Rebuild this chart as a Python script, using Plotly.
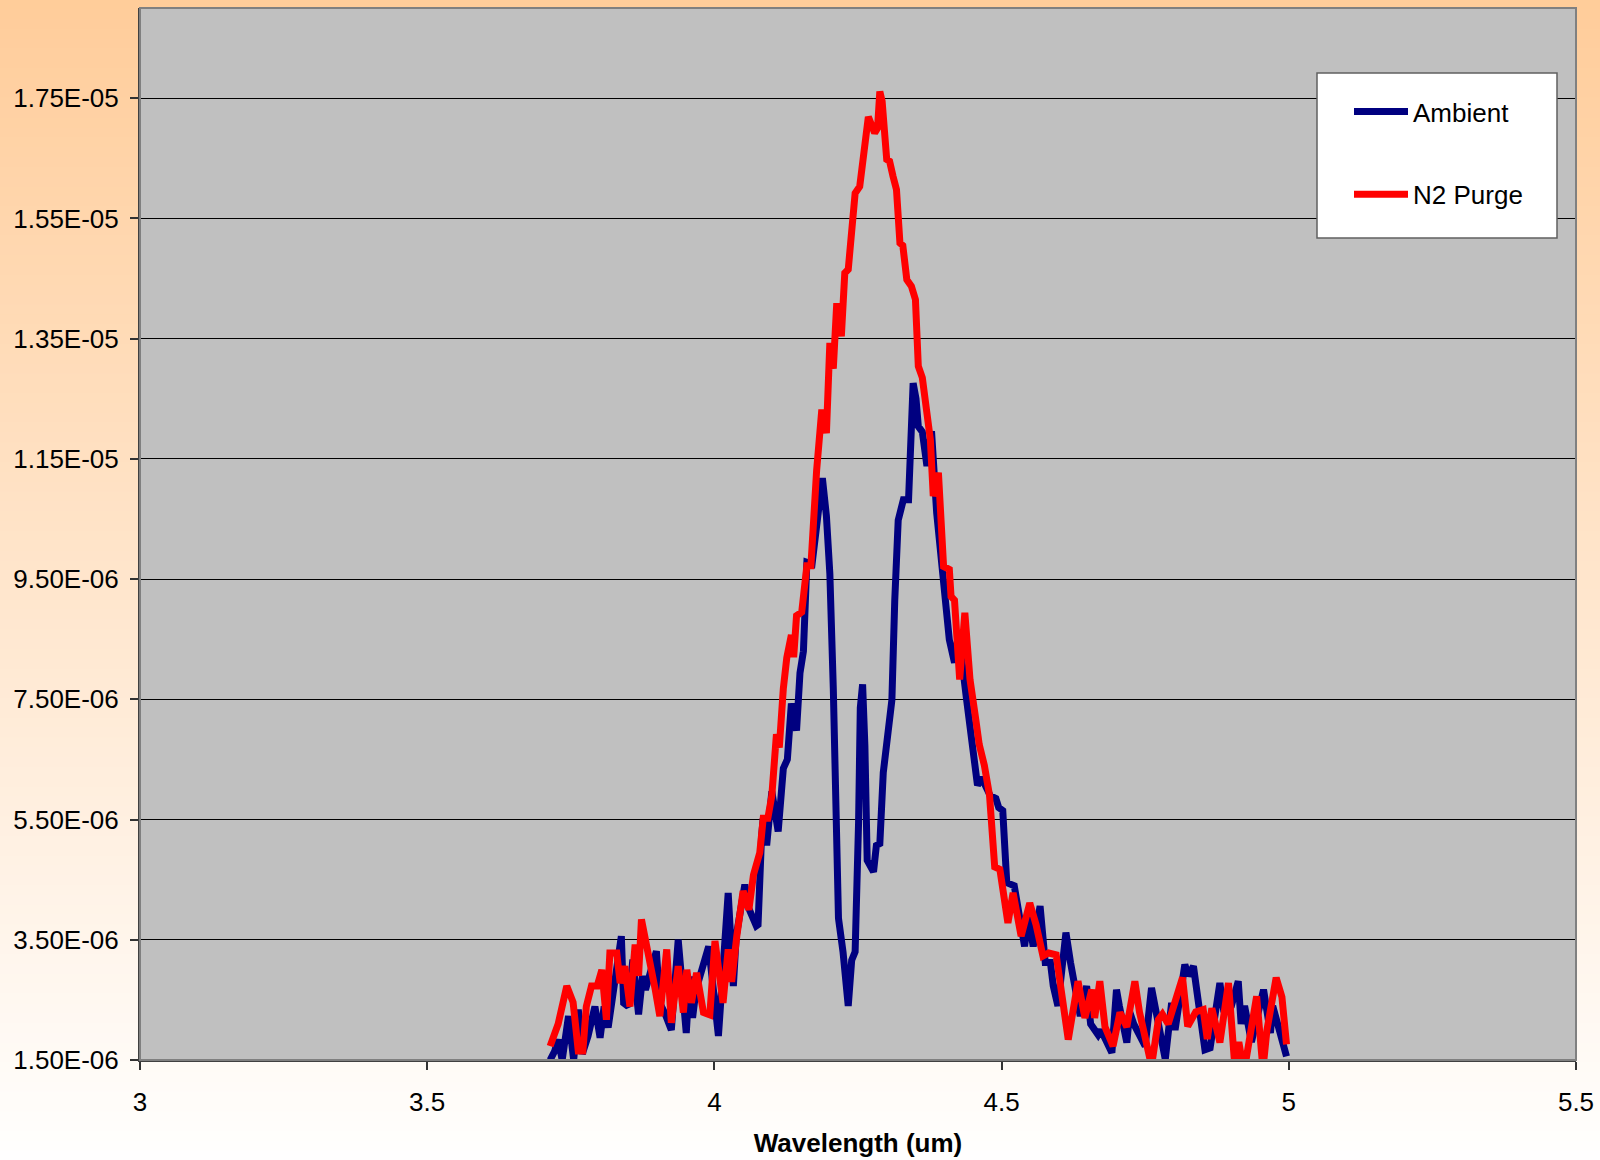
import numpy as np
import plotly.graph_objects as go

# ---------------- data (y values in units of 1e-6) ----------------
ambient_x = [3.714, 3.722, 3.728, 3.735, 3.746, 3.755, 3.763, 3.770, 3.780, 3.792,
             3.801, 3.808, 3.815, 3.825, 3.838, 3.842, 3.850, 3.858, 3.868, 3.875,
             3.880, 3.899, 3.905, 3.915, 3.925, 3.937, 3.951, 3.957, 3.962, 3.968,
             3.990, 4.007, 4.024, 4.033, 4.038, 4.053, 4.060, 4.073, 4.076, 4.082,
             4.085, 4.091, 4.100, 4.111, 4.120, 4.127, 4.134, 4.143, 4.149, 4.155,
             4.161, 4.170, 4.178, 4.188, 4.195, 4.201, 4.207, 4.212, 4.216, 4.224,
             4.233, 4.239, 4.245, 4.251, 4.254, 4.258, 4.262, 4.266, 4.277, 4.282,
             4.288, 4.294, 4.303, 4.309, 4.314, 4.320, 4.329, 4.338, 4.346, 4.351,
             4.355, 4.362, 4.370, 4.378, 4.387, 4.395, 4.404, 4.409, 4.418, 4.425,
             4.439, 4.450, 4.458, 4.465, 4.480, 4.490, 4.495, 4.502, 4.506, 4.509,
             4.522, 4.530, 4.540, 4.547, 4.555, 4.567, 4.576, 4.585, 4.590, 4.598,
             4.612, 4.620, 4.637, 4.648, 4.655, 4.668, 4.673, 4.692, 4.700, 4.705,
             4.718, 4.723, 4.730, 4.750, 4.761, 4.767, 4.785, 4.796, 4.802, 4.819,
             4.825, 4.834, 4.840, 4.854, 4.863, 4.880, 4.887, 4.900, 4.912, 4.917,
             4.923, 4.935, 4.956, 4.961, 4.968, 4.972, 4.996]
ambient_y = [1.50, 1.65, 1.84, 1.50, 2.23, 1.50, 2.34, 1.60, 1.90, 2.39,
             1.87, 2.39, 2.04, 2.78, 3.56, 2.45, 2.39, 3.17, 2.26, 2.90,
             2.67, 3.31, 2.45, 2.25, 2.00, 3.50, 1.95, 2.89, 2.20, 2.67,
             3.39, 1.90, 4.28, 2.73, 3.56, 4.42, 4.02, 3.73, 3.75, 5.20,
             5.52, 5.07, 5.97, 5.30, 6.35, 6.50, 7.43, 6.98, 7.94, 8.30,
             9.78, 9.75, 10.30, 11.18, 10.55, 9.59, 7.68, 5.45, 3.86, 3.29,
             2.40, 3.16, 3.30, 5.45, 7.36, 7.75, 6.73, 4.82, 4.63, 5.07,
             5.10, 6.28, 6.98, 7.49, 9.15, 10.48, 10.82, 10.82, 12.76, 12.50,
             12.04, 11.95, 11.38, 11.96, 10.60, 9.80, 9.16, 8.49, 8.11, 8.60,
             7.50, 6.70, 6.07, 6.20, 5.90, 5.85, 5.70, 5.65, 4.55, 4.45,
             4.40, 4.00, 3.39, 3.90, 3.39, 4.06, 3.12, 3.12, 2.73, 2.40,
             3.62, 3.12, 2.23, 2.73, 2.10, 1.92, 2.00, 1.62, 2.67, 2.40,
             1.79, 2.30, 2.10, 1.73, 2.70, 2.40, 1.51, 2.45, 2.00, 3.09,
             2.90, 3.06, 2.60, 1.67, 1.70, 2.78, 2.30, 2.40, 2.81, 2.10,
             2.40, 1.80, 2.67, 2.40, 1.95, 2.40, 1.56]

purge_x = [3.714, 3.728, 3.743, 3.754, 3.763, 3.771, 3.777, 3.786, 3.796, 3.804,
           3.812, 3.818, 3.830, 3.836, 3.844, 3.853, 3.862, 3.868, 3.873, 3.880,
           3.888, 3.897, 3.905, 3.917, 3.925, 3.937, 3.946, 3.952, 3.960, 3.969,
           3.981, 3.992, 4.001, 4.015, 4.024, 4.030, 4.039, 4.044, 4.050, 4.060,
           4.068, 4.079, 4.085, 4.093, 4.100, 4.108, 4.113, 4.120, 4.126, 4.134,
           4.138, 4.143, 4.152, 4.161, 4.168, 4.178, 4.187, 4.195, 4.198, 4.201,
           4.207, 4.213, 4.221, 4.227, 4.233, 4.239, 4.245, 4.253, 4.268, 4.279,
           4.284, 4.288, 4.292, 4.300, 4.305, 4.311, 4.317, 4.323, 4.328, 4.335,
           4.343, 4.350, 4.355, 4.362, 4.370, 4.376, 4.381, 4.390, 4.399, 4.409,
           4.412, 4.418, 4.427, 4.436, 4.445, 4.451, 4.455, 4.461, 4.470, 4.479,
           4.488, 4.497, 4.511, 4.520, 4.534, 4.549, 4.560, 4.572, 4.582, 4.595,
           4.603, 4.616, 4.633, 4.640, 4.645, 4.657, 4.662, 4.671, 4.680, 4.694,
           4.706, 4.718, 4.732, 4.740, 4.750, 4.761, 4.773, 4.780, 4.790, 4.815,
           4.824, 4.838, 4.851, 4.858, 4.866, 4.880, 4.895, 4.906, 4.913, 4.922,
           4.944, 4.955, 4.962, 4.978, 4.988, 4.996]
purge_y = [1.73, 2.10, 2.73, 2.46, 1.65, 1.65, 2.39, 2.73, 2.73, 3.00,
           2.17, 3.28, 3.28, 2.78, 3.06, 2.39, 3.42, 2.90, 3.84, 3.45,
           3.17, 2.67, 2.23, 3.34, 2.12, 3.06, 2.29, 3.00, 2.45, 2.95,
           2.29, 2.25, 3.48, 2.45, 3.34, 2.80, 3.56, 3.95, 4.31, 4.00,
           4.58, 4.95, 5.52, 5.52, 5.90, 6.92, 6.70, 7.68, 8.19, 8.57,
           8.20, 8.89, 8.95, 9.72, 9.72, 11.31, 12.32, 11.93, 12.83, 13.43,
           13.00, 14.09, 13.54, 14.59, 14.65, 15.20, 15.92, 16.03, 17.19, 16.92,
           17.00, 17.61, 17.45, 16.48, 16.45, 16.20, 15.98, 15.09, 15.05, 14.48,
           14.37, 14.15, 13.04, 12.85, 12.32, 11.82, 10.88, 11.27, 9.71, 9.66,
           9.21, 9.15, 7.83, 8.94, 7.83, 7.50, 7.17, 6.75, 6.40, 5.90,
           4.71, 4.67, 3.78, 4.28, 3.56, 4.11, 3.75, 3.23, 3.28, 3.25,
           2.73, 1.84, 2.81, 2.50, 2.20, 2.67, 2.20, 2.81, 2.05, 1.73,
           2.29, 2.05, 2.81, 2.30, 1.84, 1.40, 2.17, 2.26, 2.10, 2.87,
           2.06, 2.30, 2.34, 1.85, 2.36, 1.79, 2.78, 1.40, 1.80, 1.30,
           2.56, 1.35, 2.00, 2.87, 2.55, 1.76]

series_names = ["Ambient", "N2 Purge"]
y_tick_vals_e6 = [1.5, 3.5, 5.5, 7.5, 9.5, 11.5, 13.5, 15.5, 17.5]
x_tick_vals = [3, 3.5, 4, 4.5, 5, 5.5]

# ---------------- figure ----------------
W, H = 1600, 1160
L, R, T, B = 140, 24, 8, 100
FONT = "Arial, Liberation Sans, sans-serif"

fig = go.Figure()
fig.add_trace(go.Scatter(x=ambient_x, y=np.array(ambient_y) * 1e-6, mode="lines",
                         name=series_names[0], legendgroup="a",
                         line=dict(color="#000080", width=7)))
fig.add_trace(go.Scatter(x=purge_x, y=np.array(purge_y) * 1e-6, mode="lines",
                         name=series_names[1], legendgroup="b",
                         line=dict(color="#FF0000", width=7)))

yt = [v * 1e-6 for v in y_tick_vals_e6]
ytext = ["{:.2E}".format(v) for v in yt]

# background gradient (orange top -> white bottom) as strips in paper coords
pw, ph = W - L - R, H - T - B
x0p, x1p = -L / pw - 0.01, 1 + R / pw + 0.01
ytop, ybot = 1 + T / ph + 0.01, -B / ph - 0.01
shapes = []
N = 120
for i in range(N):
    f0 = i / N
    f1 = (i + 1) / N
    fm = (i + 0.5) / N
    g = round(204 + (255 - 204) * fm)
    b = round(153 + (255 - 153) * fm)
    shapes.append(dict(type="rect", xref="paper", yref="paper", layer="below",
                       x0=x0p, x1=x1p, y0=ytop - (ytop - ybot) * f0,
                       y1=ytop - (ytop - ybot) * f1 - 0.002,
                       fillcolor=f"rgb(255,{g},{b})", line=dict(width=0)))
# gray plot area
shapes.append(dict(type="rect", xref="paper", yref="paper", layer="below",
                   x0=0, x1=1, y0=0, y1=1, fillcolor="#C0C0C0", line=dict(width=0)))
# plot border
shapes.append(dict(type="rect", xref="paper", yref="paper", layer="above",
                   x0=0, x1=1, y0=0, y1=1, fillcolor="rgba(0,0,0,0)",
                   line=dict(color="#808080", width=2)))
# legend box
lx0, lx1 = (1317 - L) / pw, (1557 - L) / pw
ly0, ly1 = (H - B - 238) / ph, (H - B - 73) / ph
shapes.append(dict(type="rect", xref="paper", yref="paper", layer="above",
                   x0=lx0, x1=lx1, y0=ly0, y1=ly1, fillcolor="white",
                   line=dict(color="#606060", width=1.5)))

fig.update_layout(
    width=W, height=H,
    margin=dict(l=L, r=R, t=T, b=B, autoexpand=False),
    paper_bgcolor="white",
    plot_bgcolor="rgba(0,0,0,0)",
    font=dict(family=FONT, size=26, color="black"),
    shapes=shapes,
    showlegend=True,
    legend=dict(x=(1349 - L) / pw, y=(H - B - 88) / ph, xanchor="left", yanchor="top",
                bgcolor="rgba(0,0,0,0)", borderwidth=0,
                font=dict(family=FONT, size=26, color="black"),
                traceorder="grouped", tracegroupgap=46, itemwidth=54),
    xaxis=dict(range=[3, 5.5], tickvals=x_tick_vals, ticks="outside", ticklen=8,
               tickcolor="#333333", tickwidth=1.5, showgrid=False, zeroline=False,
               showline=True, linecolor="#404040", linewidth=2,
               ticklabelstandoff=10,
               tickfont=dict(family=FONT, size=26, color="black"),
               title=dict(text="<b>Wavelength (um)</b>", standoff=18,
                          font=dict(family=FONT, size=26, color="black"))),
    yaxis=dict(range=[1.5e-6, 1.9e-5], tickvals=yt, ticktext=ytext, ticks="outside",
               ticklen=8, tickcolor="#333333", tickwidth=1.5,
               showgrid=True, gridcolor="black", gridwidth=1, zeroline=False,
               showline=True, linecolor="#404040", linewidth=2,
               ticklabelstandoff=6,
               tickfont=dict(family=FONT, size=26, color="black")),
)

fig.write_html("out.html",
               config={"displayModeBar": False},
               post_script="document.body.style.margin='0';document.body.style.overflow='hidden';")
